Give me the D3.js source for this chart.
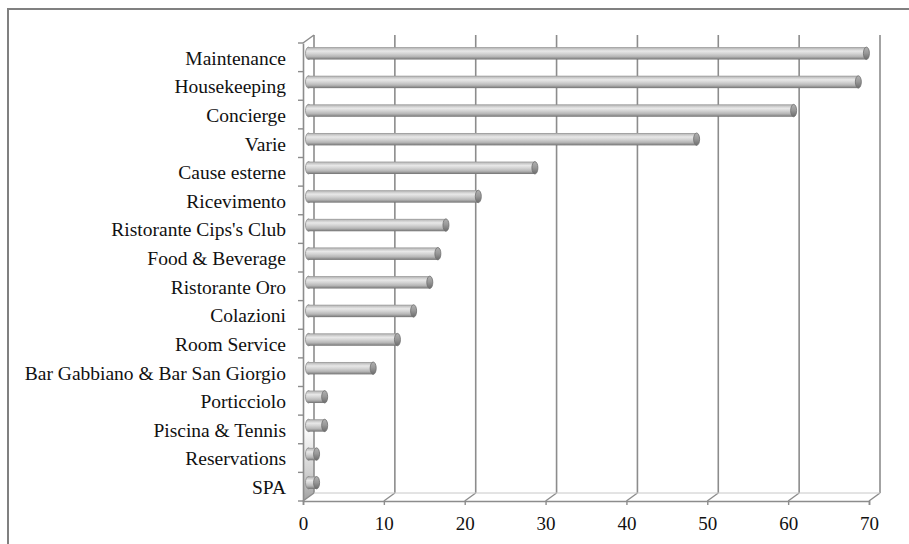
<!DOCTYPE html>
<html>
<head>
<meta charset="utf-8">
<script src="https://cdn.jsdelivr.net/npm/d3@7"></script>
<style>
  html, body { margin: 0; padding: 0; background: #fff; }
  svg { display: block; }
  text { font-family: "Liberation Serif", "Times New Roman", serif; fill: #111; }
</style>
</head>
<body>
<script>
// Complaints by department (count)
const categories = [
  "Maintenance", "Housekeeping", "Concierge", "Varie", "Cause esterne",
  "Ricevimento", "Ristorante Cips's Club", "Food & Beverage", "Ristorante Oro",
  "Colazioni", "Room Service", "Bar Gabbiano & Bar San Giorgio", "Porticciolo",
  "Piscina & Tennis", "Reservations", "SPA"
];
const values = [69, 68, 60, 48, 28, 21, 17, 16, 15, 13, 11, 8, 2, 2, 1, 1];
const xTicks = [0, 10, 20, 30, 40, 50, 60, 70];

const W = 909, H = 544;
const frontLeft = 303, frontRight = 869, floorY = 501, topY = 43;
const depthX = 11, depthY = -8;   // offset of the back wall
const barR = 6.2;                 // cylinder radius
const capRx = 3;                  // ellipse half-width of cylinder ends

const svg = d3.select("body").append("svg").attr("width", W).attr("height", H);
const defs = svg.append("defs");

// Cylinder shading (vertical gradient)
const cyl = defs.append("linearGradient").attr("id", "cyl")
  .attr("x1", 0).attr("y1", 0).attr("x2", 0).attr("y2", 1);
[[0, "#929292"], [0.12, "#c4c4c4"], [0.32, "#e8e8e8"], [0.52, "#d4d4d4"],
 [0.76, "#b6b6b6"], [0.9, "#909090"], [1, "#707070"]]
  .forEach(([o, c]) => cyl.append("stop").attr("offset", o).attr("stop-color", c));

const capG = defs.append("linearGradient").attr("id", "cap")
  .attr("x1", 0).attr("y1", 0).attr("x2", 0).attr("y2", 1);
[[0, "#b0b0b0"], [0.45, "#9a9a9a"], [1, "#6c6c6c"]]
  .forEach(([o, c]) => capG.append("stop").attr("offset", o).attr("stop-color", c));

const wallG = defs.append("linearGradient").attr("id", "wall")
  .attr("x1", 0).attr("y1", 0).attr("x2", 0).attr("y2", 1);
[[0, "#ffffff"], [0.84, "#ffffff"], [0.94, "#cfcfcf"], [1, "#a0a0a0"]]
  .forEach(([o, c]) => wallG.append("stop").attr("offset", o).attr("stop-color", c));

// Chart area border (left and top edges visible)
svg.append("rect").attr("x", 8).attr("y", 9).attr("width", W + 20).attr("height", H + 20)
  .attr("fill", "#fff").attr("stroke", "#808080").attr("stroke-width", 2);

const x = d3.scaleLinear().domain([0, 70]).range([frontLeft, frontRight]);
const y = d3.scaleBand().domain(categories).range([topY, floorY]).padding(0);

const gridColor = "#8c8c8c";

// Side wall
svg.append("polygon")
  .attr("points", [[frontLeft, topY], [frontLeft + depthX, topY + depthY],
                   [frontLeft + depthX, floorY + depthY], [frontLeft, floorY]].join(" "))
  .attr("fill", "url(#wall)").attr("stroke", "none");

// Back-wall gridlines
svg.append("g").selectAll("line").data(xTicks).join("line")
  .attr("x1", d => x(d) + depthX).attr("x2", d => x(d) + depthX)
  .attr("y1", floorY + depthY).attr("y2", topY + depthY)
  .attr("stroke", gridColor).attr("stroke-width", 1.6);

// Floor: depth lines at each tick and the back edge
svg.append("g").selectAll("line").data(xTicks).join("line")
  .attr("x1", d => x(d)).attr("y1", floorY)
  .attr("x2", d => x(d) + depthX).attr("y2", floorY + depthY)
  .attr("stroke", gridColor).attr("stroke-width", 1.4);
svg.append("line")
  .attr("x1", x(0) + depthX).attr("x2", x(70) + depthX)
  .attr("y1", floorY + depthY).attr("y2", floorY + depthY)
  .attr("stroke", "#c8c8c8").attr("stroke-width", 1);

// Top edge of the side wall
svg.append("line")
  .attr("x1", frontLeft).attr("y1", topY)
  .attr("x2", frontLeft + depthX).attr("y2", topY + depthY)
  .attr("stroke", gridColor).attr("stroke-width", 1.4);

// Front value axis
const xAxis = d3.axisBottom(x).tickValues(xTicks).tickSize(4).tickPadding(12)
  .tickFormat(d3.format("d"));
const gx = svg.append("g").attr("transform", `translate(0,${floorY})`).call(xAxis);
gx.select(".domain").attr("stroke", gridColor).attr("stroke-width", 1.6);
gx.selectAll(".tick line").attr("stroke", gridColor).attr("stroke-width", 1.4);
gx.selectAll(".tick text").attr("font-size", 19).style("font-family", "Liberation Serif, serif")
  .attr("fill", "#111");

// Front category axis
const yAxis = d3.axisLeft(y).tickSize(0).tickPadding(17);
const gy = svg.append("g").attr("transform", `translate(${frontLeft},0)`).call(yAxis);
gy.select(".domain").attr("stroke", gridColor).attr("stroke-width", 1.6);
gy.selectAll(".tick text").attr("font-size", 19.5).style("font-family", "Liberation Serif, serif")
  .attr("fill", "#111").attr("dy", "0.38em");
// Boundary ticks between categories
const bounds = d3.range(categories.length + 1).map(i => topY + i * y.step());
svg.append("g").selectAll("line").data(bounds).join("line")
  .attr("x1", frontLeft - 5).attr("x2", frontLeft)
  .attr("y1", d => d).attr("y2", d => d)
  .attr("stroke", gridColor).attr("stroke-width", 1.4);

// Cylinders
const bars = svg.append("g").selectAll("g").data(categories.map((c, i) => ({ c, v: values[i] })))
  .join("g");
const cy = d => y(d.c) + y.bandwidth() / 2 + depthY / 2;
const x0 = x(0) + depthX / 2;
const xe = d => x(d.v) + depthX / 2;

bars.append("ellipse")
  .attr("cx", x0).attr("cy", cy).attr("rx", capRx).attr("ry", barR)
  .attr("fill", "url(#cyl)").attr("stroke", "#8a8a8a").attr("stroke-width", 0.8);
bars.append("rect")
  .attr("x", x0).attr("y", d => cy(d) - barR)
  .attr("width", d => xe(d) - x0).attr("height", barR * 2)
  .attr("fill", "url(#cyl)");
bars.append("ellipse")
  .attr("cx", xe).attr("cy", cy).attr("rx", capRx).attr("ry", barR)
  .attr("fill", "url(#cap)").attr("stroke", "#707070").attr("stroke-width", 0.8);
</script>
</body>
</html>
